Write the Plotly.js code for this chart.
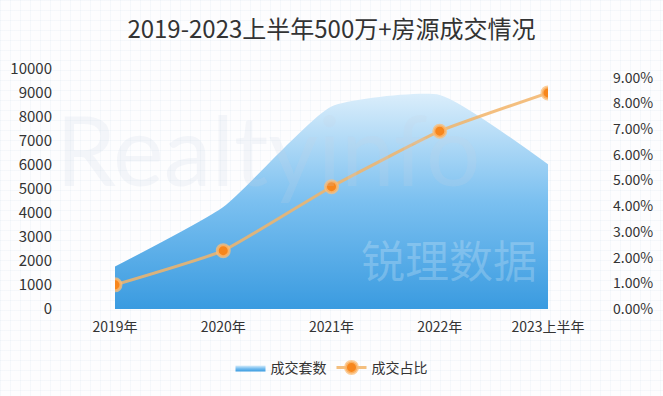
<!DOCTYPE html>
<html>
<head>
<meta charset="utf-8">
<script src="https://cdn.plot.ly/plotly-3.0.1.min.js"></script>
<style>
  html, body { margin: 0; padding: 0; }
  body {
    width: 663px; height: 396px; overflow: hidden;
    background-color: #fdfdfe;
    background-image:
      linear-gradient(rgba(222,232,244,0.28) 1px, transparent 1px),
      linear-gradient(90deg, rgba(222,232,244,0.28) 1px, transparent 1px);
    background-size: 10px 10px;
  }
  #chart { width: 663px; height: 396px; }
</style>
</head>
<body>
<div id="chart"></div>
<script>
// ---- data ----
const categories = ['2019年', '2020年', '2021年', '2022年', '2023上半年'];
const dealCount = [1770, 4250, 8440, 8920, 6030];        // 成交套数
const dealShare = [0.0094, 0.0227, 0.0476, 0.0692, 0.0841]; // 成交占比
const seriesNames = ['成交套数', '成交占比'];
const titleText = '2019-2023上半年500万+房源成交情况';

const font = '"Microsoft YaHei", "Noto Sans CJK SC", "Noto Sans", sans-serif';

const traces = [
  {
    type: 'scatter',
    mode: 'lines',
    name: seriesNames[0],
    x: categories,
    y: dealCount,
    line: { width: 0, shape: 'spline', smoothing: 0.5, color: '#6cb7ec' },
    fill: 'tozeroy',
    fillgradient: {
      type: 'vertical',
      start: 0,
      stop: 9000,
      colorscale: [[0, '#3a9be0'], [0.5, '#7bc0f0'], [1, '#dbeefb']]
    },
    hoverinfo: 'x+y'
  },
  {
    type: 'scatter',
    mode: 'lines+markers',
    name: seriesNames[1],
    x: categories,
    y: dealShare,
    yaxis: 'y2',
    line: { width: 3, color: 'rgba(242,180,105,0.85)', shape: 'spline', smoothing: 0.4 },
    marker: { size: 12, color: '#f7861c', line: { width: 3, color: 'rgba(251,190,120,0.75)' } }
  }
];

const layout = {
  width: 663,
  height: 396,
  margin: { l: 115, r: 115, t: 69, b: 85 },
  paper_bgcolor: 'rgba(0,0,0,0)',
  plot_bgcolor: 'rgba(0,0,0,0)',
  font: { family: font, color: '#333', size: 14 },
  title: {
    text: titleText,
    x: 0.5, xanchor: 'center',
    y: 0.925, yanchor: 'middle',
    font: { family: font, size: 24, color: '#333' }
  },
  showlegend: true,
  legend: {
    orientation: 'h',
    x: 0.5, xanchor: 'center',
    y: -0.245, yanchor: 'middle',
    font: { family: font, size: 14, color: '#333' },
    itemwidth: 30,
    bgcolor: 'rgba(0,0,0,0)'
  },
  xaxis: {
    type: 'category',
    range: [0, 4],
    showgrid: false,
    zeroline: false,
    showline: false,
    ticks: '',
    ticklabelstandoff: 8,
    tickfont: { family: font, size: 14, color: '#333' },
    fixedrange: true
  },
  yaxis: {
    range: [0, 10000],
    dtick: 1000,
    tickformat: 'd',
    showgrid: false,
    zeroline: false,
    showline: false,
    ticks: '',
    ticklabelstandoff: 62,
    tickfont: { family: font, size: 15, color: '#333' },
    fixedrange: true
  },
  yaxis2: {
    overlaying: 'y',
    side: 'right',
    range: [0, 0.0934],
    dtick: 0.01,
    tickformat: '.2%',
    showgrid: false,
    zeroline: false,
    showline: false,
    ticks: '',
    ticklabelstandoff: 64,
    tickfont: { family: font, size: 14, color: '#333' },
    fixedrange: true
  },
  annotations: [
    {
      xref: 'paper', yref: 'paper', x: -0.14, y: 0.67, xanchor: 'left', yanchor: 'middle',
      text: 'Realtyinfo', showarrow: false,
      font: { family: 'Lato, "Noto Sans", sans-serif', size: 96, color: 'rgba(200,212,226,0.18)' }
    },
    {
      xref: 'paper', yref: 'paper', x: 0.98, y: 0.21, xanchor: 'right', yanchor: 'middle',
      text: '锐理数据', showarrow: false,
      font: { family: '"Noto Sans CJK SC", sans-serif', size: 44, color: 'rgba(255,255,255,0.22)' }
    }
  ]
};

Plotly.newPlot('chart', traces, layout, { displayModeBar: false, staticPlot: true });
</script>
</body>
</html>
